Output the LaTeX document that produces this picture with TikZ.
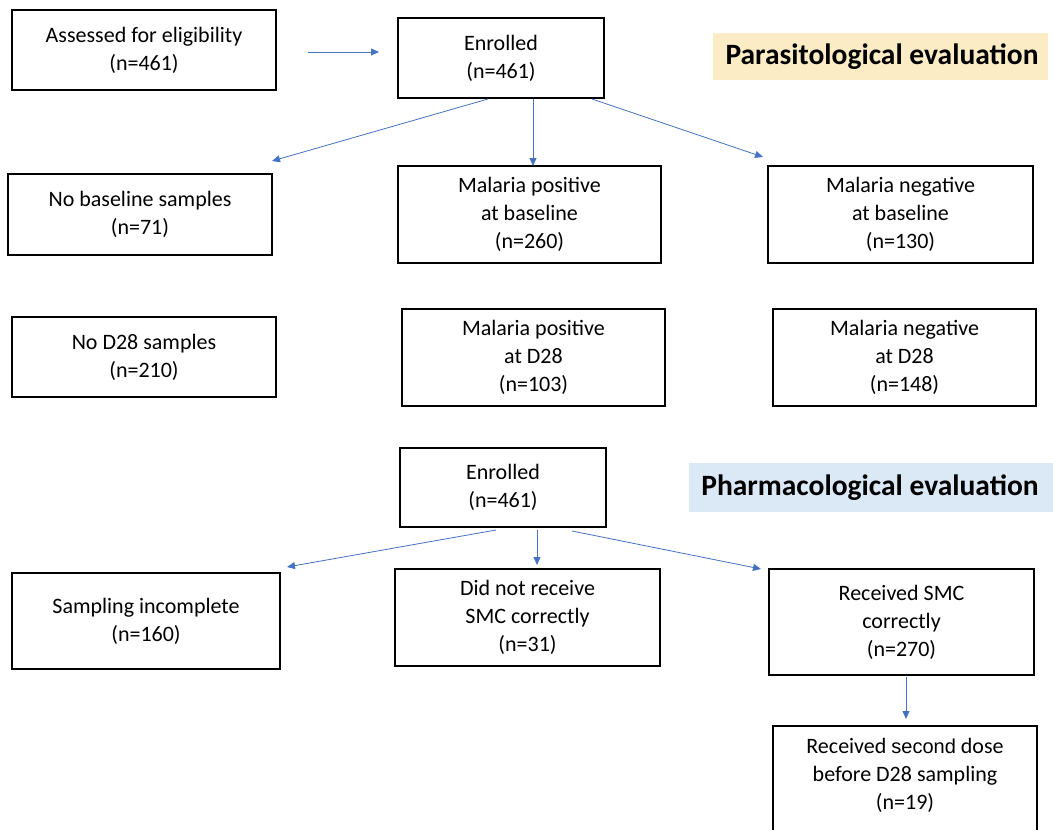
\documentclass[tikz,border=0pt]{standalone}
\usepackage{fontspec}
\setmainfont{Carlito}
\newfontfamily\arialish{Liberation Sans}
\usetikzlibrary{arrows.meta}
\definecolor{arrowblue}{RGB}{68,114,196}
\definecolor{creamfill}{RGB}{252,236,198}
\definecolor{bluefill}{RGB}{219,232,245}
\begin{document}
\begin{tikzpicture}[x=1pt,y=-1pt,
  flowbox/.style={draw=black,line width=1.6pt,inner sep=0pt,align=center,
    font=\fontsize{22}{28}\selectfont},
  flowtext/.style={inner sep=0pt,align=center,font=\fontsize{22}{28}\selectfont},
  headlabel/.style={inner sep=0pt,font=\bfseries\fontsize{29.5}{32}\selectfont},
  flowarrow/.style={draw=arrowblue,line width=0.8pt,-{Triangle[width=7pt,length=8pt]}}
]
\clip (0,0) rectangle (1053,830);
\fill[white] (0,0) rectangle (1053,830);

% Parasitological evaluation
\node[fill=creamfill,minimum width=335pt,minimum height=47pt,inner sep=0pt] (plbg) at (880.5,56.5) {};
\node[headlabel] (pl) at (882,57) {Parasitological evaluation};

\node[flowbox,minimum width=264pt,minimum height=80pt] (assess) at (144,50) {Assessed for eligibility\\(n=461)};
\node[flowbox,minimum width=206pt,minimum height=80pt] (enr1) at (501,58) {Enrolled\\(n=461)};

\node[flowbox,minimum width=264pt,minimum height=81pt] (nobase) at (140,214.5) {No baseline samples\\(n=71)};
\node[flowbox,minimum width=263pt,minimum height=97pt] (posbase) at (529.5,214.5) {Malaria positive\\at baseline\\(n=260)};
\node[flowbox,minimum width=265pt,minimum height=97pt] (negbase) at (900.5,214.5) {Malaria negative\\at baseline\\(n=130)};

\node[flowbox,minimum width=264pt,minimum height=80pt] (nod28) at (144,357) {No D28 samples\\(n=210)};
\node[flowbox,minimum width=263pt,minimum height=97pt] (posd28) at (533.5,357.5) {Malaria positive\\at D28\\(n=103)};
\node[flowbox,minimum width=263pt,minimum height=97pt] (negd28) at (904.5,357.5) {Malaria negative\\at D28\\(n=148)};

% Pharmacological evaluation
\node[fill=bluefill,minimum width=366pt,minimum height=49pt,inner sep=0pt] (phbg) at (872,487.5) {};
\node[headlabel] (ph) at (870,488) {Pharmacological evaluation};

\node[flowbox,minimum width=206pt,minimum height=79pt] (enr2) at (503,487.5) {Enrolled\\(n=461)};

\node[flowbox,minimum width=268pt,minimum height=96pt] (samp) at (146,621) {Sampling incomplete\\(n=160)};
\node[flowbox,minimum width=265pt,minimum height=97pt] (didnot) at (527.5,617.5) {Did not receive\\SMC correctly\\(n=31)};
\node[flowbox,minimum width=265pt,minimum height=106pt] (smc) at (901.5,622) {Received SMC\\correctly\\(n=270)};
\node[flowbox,minimum width=264pt,minimum height=112pt] (second) at (905,782) {};
\node[flowtext] (secondtxt) at (905,775) {Received {\arialish\fontsize{20}{28}\selectfont second} dose\\before D28 sampling\\(n=19)};

% arrows
\coordinate (a1s) at (308,52);
\coordinate (a1e) at (379,52);
\draw[flowarrow] (a1s) -- (a1e);

\coordinate (e1l) at (488,99);
\coordinate (e1m) at (533,99);
\coordinate (e1r) at (592,99);
\coordinate (t1l) at (272,161);
\coordinate (t1m) at (533,166);
\coordinate (t1r) at (763,157);
\draw[flowarrow] (e1l) -- (t1l);
\draw[flowarrow] (e1m) -- (t1m);
\draw[flowarrow] (e1r) -- (t1r);

\coordinate (e2l) at (496,530);
\coordinate (e2m) at (537,530);
\coordinate (e2r) at (572,531);
\coordinate (t2l) at (287,567);
\coordinate (t2m) at (537,565);
\coordinate (t2r) at (761,569);
\draw[flowarrow] (e2l) -- (t2l);
\draw[flowarrow] (e2m) -- (t2m);
\draw[flowarrow] (e2r) -- (t2r);

\coordinate (s1) at (906,677);
\coordinate (s2) at (906,719);
\draw[flowarrow] (s1) -- (s2);
\end{tikzpicture}
\end{document}
